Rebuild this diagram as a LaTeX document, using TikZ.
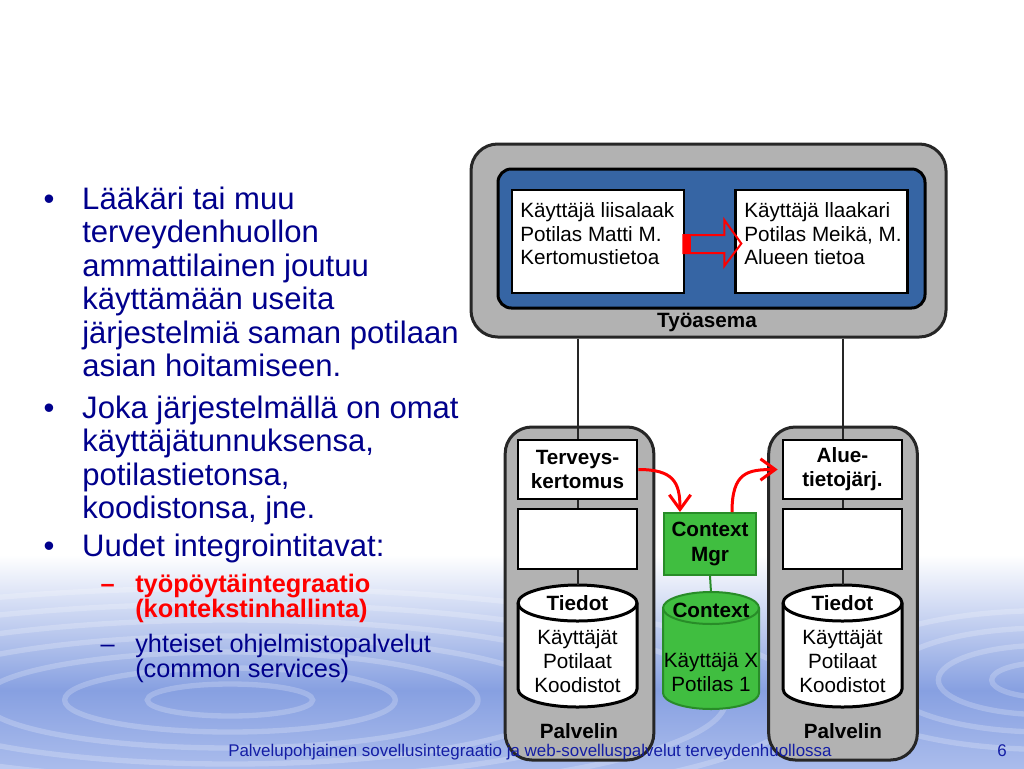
\documentclass[tikz,border=0pt]{standalone}
\usepackage{fontspec}
\setmainfont{Liberation Sans}
\usetikzlibrary{arrows.meta,calc,positioning}

\definecolor{navy}{RGB}{0,0,140}
\definecolor{wsgray}{RGB}{178,178,178}
\definecolor{wsblue}{RGB}{54,101,164}
\definecolor{ctxgreen}{RGB}{64,190,64}
\definecolor{ctxline}{RGB}{40,140,40}
\definecolor{wave}{RGB}{135,160,225}
\definecolor{wavelow}{RGB}{170,188,236}
\definecolor{footblue}{RGB}{20,30,165}

\tikzset{
  wsbox/.style={draw=black!85, line width=2.25pt, fill=wsgray, rounded corners=20pt},
  wsinner/.style={draw=black, line width=2.25pt, fill=wsblue, rounded corners=10pt},
  userbox/.style={draw=black, line width=2pt, fill=white, minimum width=129pt, minimum height=77.25pt, inner sep=0pt},
  userlabel/.style={anchor=north west, inner sep=0pt, align=left, font=\fontsize{15.5}{17.6}\selectfont},
  srvbox/.style={draw=black!85, line width=2.25pt, fill=wsgray, rounded corners=20pt, minimum width=111.5pt, minimum height=249.75pt},
  appbox/.style={draw=black, line width=2pt, fill=white, minimum width=89.25pt, minimum height=44.25pt, inner sep=0pt, align=center, font=\fontsize{15.5}{18}\selectfont\bfseries},
  dbspace/.style={minimum width=89.25pt, minimum height=91.5pt, inner sep=0pt, outer sep=0pt},
  dbline/.style={draw=black, line width=2.25pt},
  wire/.style={line width=1.5pt, black!85},
  flow/.style={red, line width=2.25pt, -{Straight Barb[length=11pt,width=16pt]}},
  caption/.style={inner sep=0pt, font=\fontsize{15.5}{18}\selectfont\bfseries},
  dbtext/.style={inner sep=0pt, align=center, font=\fontsize{15.5}{18}\selectfont},
  bulltext/.style={anchor=north west, inner sep=0pt, align=left, text=navy, font=\fontsize{23.3}{25.1}\selectfont},
  subtext/.style={anchor=north west, inner sep=0pt, align=left, font=\fontsize{19}{18.75}\selectfont},
  ripple/.style={white, opacity=0.22, line width=4pt},
}

\begin{document}
\begin{tikzpicture}[x=0.75pt,y=-0.75pt]
\useasboundingbox (0,0) rectangle (1024,768);
% background ripples
\shade[top color=white, bottom color=wave] (0,555) rectangle (1024,690);
\shade[top color=wave, bottom color=wavelow] (0,690) rectangle (1024,768);
\begin{scope}
  \clip (0,555) rectangle (1024,768);
  \foreach \r in {1,...,7}
    \draw[ripple] (230,700) ellipse [x radius=\r*62pt, y radius=\r*12pt];
  \foreach \r in {1,...,4}
    \draw[ripple] (1045,680) ellipse [x radius=\r*40pt, y radius=\r*13pt];
\end{scope}

% bullets on the left
\node[bulltext] (b1) at (82,186.5) {\llap{\makebox[29pt][l]{•}}Lääkäri tai muu\\terveydenhuollon\\ammattilainen joutuu\\käyttämään useita\\järjestelmiä saman potilaan\\asian hoitamiseen.};
\node[bulltext] (b2) at (82,395.5) {\llap{\makebox[29pt][l]{•}}Joka järjestelmällä on omat\\käyttäjätunnuksensa,\\potilastietonsa,\\koodistonsa, jne.};
\node[bulltext] (b3) at (82,533.5) {\llap{\makebox[29pt][l]{•}}Uudet integrointitavat:};
\node[subtext, text=red] (s1) at (135,573.5) {\bfseries\llap{\makebox[26pt][l]{–}}työpöytäintegraatio\\\bfseries (kontekstinhallinta)};
\node[subtext, text=navy] (s2) at (135,633.5) {\llap{\makebox[26pt][l]{–}}yhteiset ohjelmistopalvelut\\(common services)};

% workstation
\node[wsbox, minimum width=356.25pt, minimum height=144.75pt] (ws) at (708.5,240.5) {};
\node[wsinner, minimum width=320.25pt, minimum height=104.25pt] (desk) at (711.5,238.5) {};
\node[userbox] (userL) at (598,241.5) {};
\node[userbox] (userR) at (821.5,241.5) {};
\node[userlabel] (txtL) at (520,202.5) {Käyttäjä liisalaak\\Potilas Matti M.\\Kertomustietoa};
\node[userlabel] (txtR) at (744,202.5) {Käyttäjä llaakari\\Potilas Meikä, M.\\Alueen tietoa};
\node[caption] (wslabel) at (707,322) {Työasema};
\fill[red] ($(userL.east)+(-2,-6.5)$) rectangle ++(8,18);
\draw[red, line width=1.5pt, line join=miter] ($(userL.east)+(-2,-6.5)$) -- ++(41,0) -- ++(0,-15) -- ++(17,23.5) -- ++(-17,22.5) -- ++(0,-13) -- ++(-41,0) -- cycle;

% servers
\node[srvbox] (srvL) at (579.5,593.5) {};
\node[srvbox] (srvR) at (843,593.5) {};
\node[caption] (palL) at (579,731) {Palvelin};
\node[caption] (palR) at (843,731) {Palvelin};

\node[appbox] (termL) at (577.5,469.5) {Terveys-\\kertomus};
\node[appbox, minimum height=45pt] (midL) at (577.5,539) {};
\node[dbspace] (dbL) at (577.5,646) {};
\draw[dbline, fill=white] ([yshift=-13.5pt]dbL.north west) -- ([yshift=13.5pt]dbL.south west) arc[start angle=180, end angle=360, x radius=44.625pt, y radius=13.5pt] -- ([yshift=-13.5pt]dbL.north east) arc[start angle=0, end angle=180, x radius=44.625pt, y radius=13.5pt] -- cycle;
\draw[dbline] ([yshift=-13.5pt]dbL.north west) arc[start angle=180, end angle=360, x radius=44.625pt, y radius=13.5pt];
\node[caption] (tiedL) at ([yshift=-13.5pt]dbL.north) {Tiedot};
\node[dbtext] (listL) at (577.5,661) {Käyttäjät\\Potilaat\\Koodistot};

\node[appbox] (alueR) at (842.5,469.5) {Alue-\\tietojärj.};
\node[appbox, minimum height=45pt] (midR) at (842.5,539) {};
\node[dbspace] (dbR) at (842.5,646) {};
\draw[dbline, fill=white] ([yshift=-13.5pt]dbR.north west) -- ([yshift=13.5pt]dbR.south west) arc[start angle=180, end angle=360, x radius=44.625pt, y radius=13.5pt] -- ([yshift=-13.5pt]dbR.north east) arc[start angle=0, end angle=180, x radius=44.625pt, y radius=13.5pt] -- cycle;
\draw[dbline] ([yshift=-13.5pt]dbR.north west) arc[start angle=180, end angle=360, x radius=44.625pt, y radius=13.5pt];
\node[caption] (tiedR) at ([yshift=-13.5pt]dbR.north) {Tiedot};
\node[dbtext] (listR) at (842.5,661) {Käyttäjät\\Potilaat\\Koodistot};

% context manager
\node[draw=ctxline, fill=ctxgreen, line width=1.5pt, minimum width=69pt, minimum height=46.5pt, inner sep=0pt, align=center, font=\fontsize{15.5}{18.75}\selectfont\bfseries] (ctx) at (710,544) {Context\\Mgr};
\node[minimum width=72pt, minimum height=87.75pt, inner sep=0pt, outer sep=0pt] (ctxdb) at (711,650.5) {};
\draw[draw=ctxline, line width=1.5pt, fill=ctxgreen] ([yshift=-12pt]ctxdb.north west) -- ([yshift=12pt]ctxdb.south west) arc[start angle=180, end angle=360, x radius=36pt, y radius=12pt] -- ([yshift=-12pt]ctxdb.north east) arc[start angle=0, end angle=180, x radius=36pt, y radius=12pt] -- cycle;
\draw[draw=ctxline, line width=1.5pt] ([yshift=-12pt]ctxdb.north west) arc[start angle=180, end angle=360, x radius=36pt, y radius=12pt];
\node[caption] (ctxname) at ([yshift=-14pt]ctxdb.north) {Context};
\node[dbtext] (ctxlist) at (711,672) {Käyttäjä X\\Potilas 1};
\draw[ctxline, line width=1.5pt] (ctx.south) -- (ctxdb.north);

% wires
\draw[wire] (ws.south -| termL.north) -- (termL.north);
\draw[wire] (termL.south) -- (midL.north);
\draw[wire] (midL.south) -- (dbL.north);
\draw[wire] (ws.south -| alueR.north) -- (alueR.north);
\draw[wire] (alueR.south) -- (midR.north);
\draw[wire] (midR.south) -- (dbR.north);

% context flow
\draw[flow] (termL.east) .. controls +(35,0) and +(0,-30) .. ([xshift=-22.5pt]ctx.north);
\draw[flow] ([xshift=16.5pt]ctx.north) .. controls +(0,-40) and +(-30,0) .. ([xshift=-3pt]alueR.west);

% footer
\node[anchor=west, inner sep=0pt, text=footblue, font=\fontsize{12.7}{14}\selectfont] (foot) at (228,752) {Palvelupohjainen sovellusintegraatio ja web-sovelluspalvelut terveydenhuollossa};
\node[inner sep=0pt, text=footblue, font=\fontsize{12.7}{14}\selectfont] (page) at (1002,751) {6};
\end{tikzpicture}
\end{document}
